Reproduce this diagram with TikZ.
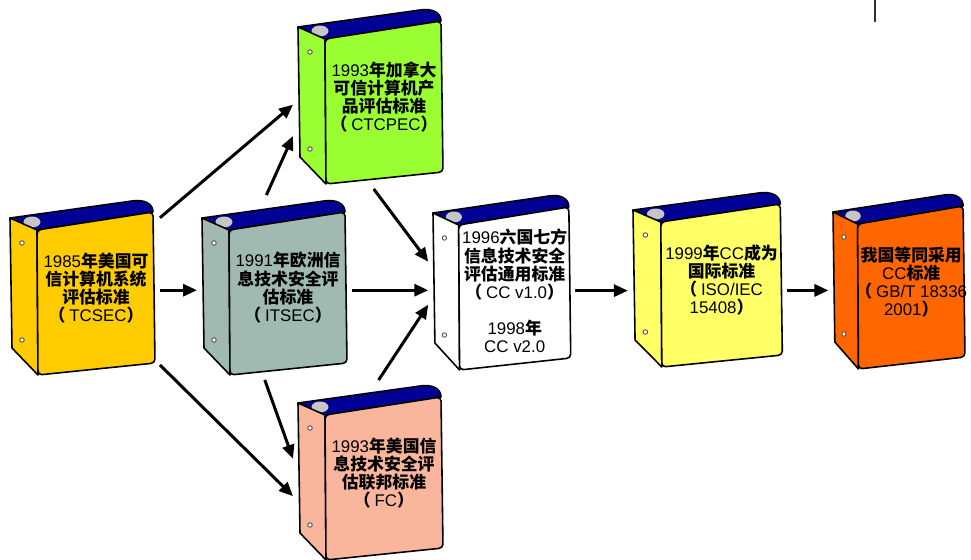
\documentclass[tikz,border=0pt]{standalone}
\usepackage{fontspec}
\usepackage{tikz}
\usetikzlibrary{arrows.meta, positioning}
\newfontfamily\cjk{Noto Sans CJK SC}
\newfontfamily\latin{Liberation Sans}
\definecolor{spineblue}{RGB}{0, 0, 150}
\definecolor{tcsecyellow}{RGB}{255, 204, 0}
\definecolor{itsecgrey}{RGB}{160, 186, 177}
\definecolor{ctcpecgreen}{RGB}{153, 255, 51}
\definecolor{isoyellow}{RGB}{255, 255, 102}
\definecolor{gborange}{RGB}{255, 102, 0}
\definecolor{fcpink}{RGB}{250, 182, 156}

% latin part of a label
\newcommand{\en}[1]{{\latin\mdseries #1}}

\tikzset{
  booktext/.style={align=center, inner sep=0pt, font=\cjk\bfseries\fontsize{9.6}{10.4}\selectfont},
  bookbox/.style={minimum width=2.9cm, minimum height=3.5cm, outer sep=0.1cm, transform shape},
  bookline/.style={draw=black, line width=0.9pt, line join=round},
  flow/.style={line width=1.7pt, -{Triangle[length=2.8mm, width=2.4mm]}},
}

% a ring binder: options, name, x, y, colour, label
\newcommand{\binder}[6][]{%
  \begin{scope}[shift={(#3,#4)}, #1]
    % top edge of the binder
    \path[bookline, fill=spineblue] (0,0) -- (122,-17) .. controls (135,-19) and (143,-14) .. (143,-6) -- (27,12) -- cycle;
    \fill[gray!45] (22,4) ellipse [x radius=0.17cm, y radius=0.11cm];
    % spine and cover
    \path[bookline, fill=#5] (0,0) -- (27,12) -- (28,157) -- (2,130) -- cycle;
    \path[bookline, fill=#5, rounded corners=0.08cm] (27,12) -- (143,-6) -- (145,145) -- (28,157) -- cycle;
    \filldraw[fill=white, draw=gray!60!black, line width=0.5pt] (12,25) circle (0.045cm) (12,122) circle (0.045cm);
    \node[bookbox] (#2) at (72.5,69.5) {};
    \node[booktext] at (86,70) {#6};
  \end{scope}}

\begin{document}
\begin{tikzpicture}[x=0.02cm, y=-0.02cm]
\path[use as bounding box, fill=white] (0,0) rectangle (971,559);

\binder{tcsec}{10}{218}{tcsecyellow}{\en{1985}年美国可\\信计算机系统\\评估标准\\（ \en{TCSEC}）}
\binder{itsec}{202}{218}{itsecgrey}{\en{1991}年欧洲信\\息技术安全评\\估标准\\（ \en{ITSEC}）}
\binder{ctcpec}{298}{27}{ctcpecgreen}{\en{1993}年加拿大\\可信计算机产\\品评估标准\\（ \en{CTCPEC}）}
\binder{fc}{298}{403}{fcpink}{\en{1993}年美国信\\息技术安全评\\估联邦标准\\（ \en{FC}）}
\binder[xscale=0.95, booktext/.append style={yshift=-0.16cm}]{cc}{433}{213}{white}{\en{1996}六国七方\\信息技术安全\\评估通用标准\\（ \en{CC v1.0}）\\[10pt]\en{1998}年\\\en{CC v2.0}}
\binder[xscale=1.03]{iso}{633}{210}{isoyellow}{\en{1999}年\en{CC}成为\\国际标准\\（ \en{ISO/IEC}\\\en{15408}）}
\binder[xscale=0.91]{gbt}{833}{212}{gborange}{我国等同采用\\\en{CC}标准\\（ \en{GB/T 18336}\\\en{2001}）}

% evolution arrows
\draw[flow] (tcsec.42) -- (ctcpec.186);
\draw[flow] (tcsec.-2) -- (tcsec.-2 -| itsec.west);
\draw[flow] (tcsec.-45) -- (fc.197);
\draw[flow] (itsec.95) -- (ctcpec.207);
\draw[flow] (itsec.264) -- (fc.170);
\draw[flow] (itsec.-2) -- (itsec.-2 -| cc.west);
\draw[flow] (ctcpec.272) -- (cc.165);
\draw[flow] (fc.85) -- (cc.196);
\draw[flow] (cc.-6) -- (cc.-6 -| iso.west);
\draw[flow] (iso.-8) -- (iso.-8 -| gbt.west);

\draw[gray!40!black, line width=0.04cm] (875,0) -- (875,22);
\end{tikzpicture}
\end{document}
